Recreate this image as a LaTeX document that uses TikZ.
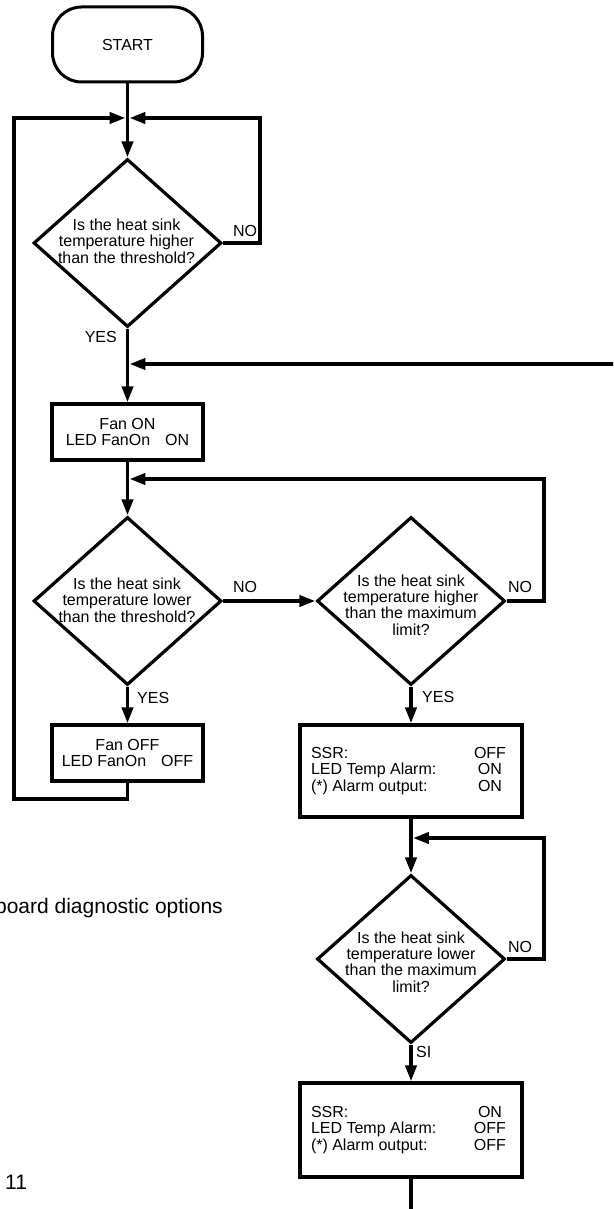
\documentclass[tikz,border=0pt]{standalone}
\usepackage{fontspec}
\setmainfont{Liberation Sans}
\usetikzlibrary{arrows.meta,shapes.geometric}
\newcommand{\ssrrow}[2]{\makebox[158pt][l]{#1}\makebox[42pt][c]{#2}}
\begin{document}
\begin{tikzpicture}[x=1pt,y=-1pt,
  every node/.style={font=\fontsize{16}{16.4}\selectfont},
  conn/.style={line width=3.8pt},
  arr/.style={conn,-{Triangle[length=16pt,width=11pt]}},
  termbox/.style={draw,line width=3pt,rounded corners=29pt,minimum width=150pt,minimum height=75pt,inner sep=0pt},
  dia/.style={draw,diamond,line width=3.2pt,minimum width=188pt,minimum height=168pt,inner sep=0pt},
  procbox/.style={draw,line width=3.2pt,inner sep=0pt},
  qtext/.style={align=center,inner sep=0pt},
  lbl/.style={inner sep=0pt},
  bigtext/.style={font=\fontsize{21}{25}\selectfont,inner sep=0pt}]
\useasboundingbox (0,0) rectangle (613,1209);
\clip (0,0) rectangle (613,1209);

% left column
\node[termbox] (start) at (127.5,44.5) {START};
\coordinate (j1) at (127.5,118);
\node[dia] (d1) at (127.5,243) {};
\node[qtext] (t1) at (126.5,241) {Is the heat sink\\temperature higher\\than the threshold?};
\node[lbl] (no1) at (245,231) {NO};
\node[lbl,anchor=east] (yes1) at (117,337) {YES};
\coordinate (rin) at (614,364);
\coordinate (j0) at (127.5,364);
\node[procbox,minimum width=151pt,minimum height=56pt,align=center] (fanon) at (127.5,432) {Fan ON\\LED FanOn\hspace{15pt}ON};
\coordinate (j2) at (127.5,479);
\node[dia] (d2) at (127.5,601) {};
\node[qtext] (t2) at (127,600) {Is the heat sink\\temperature lower\\than the threshold?};
\node[lbl] (no2) at (245,587) {NO};
\node[lbl,anchor=west] (yes2) at (137,698) {YES};
\node[procbox,minimum width=151pt,minimum height=56pt,align=center] (fanoff) at (127.5,753) {Fan OFF\\LED FanOn\hspace{15pt}OFF};
\coordinate (lb) at (14,799);

% right column
\node[dia] (d3) at (411,601) {};
\node[qtext] (t3) at (411,605) {Is the heat sink\\temperature higher\\than the maximum\\limit?};
\node[lbl] (no3) at (520,587) {NO};
\node[lbl,anchor=west] (yes3) at (422,697) {YES};
\node[procbox,minimum width=222pt,minimum height=92pt,align=left] (ssr1) at (411,771)
  {\ssrrow{SSR:}{OFF}\\\ssrrow{LED Temp Alarm:}{ON}\\\ssrrow{(*) Alarm output:}{ON}};
\coordinate (j3) at (411,838);
\node[dia] (d4) at (411,959) {};
\node[qtext] (t4) at (411,962) {Is the heat sink\\temperature lower\\than the maximum\\limit?};
\node[lbl] (no4) at (520,947) {NO};
\node[lbl,anchor=west] (si4) at (416,1052) {SI};
\node[procbox,minimum width=222pt,minimum height=94pt,align=left] (ssr2) at (411,1130)
  {\ssrrow{SSR:}{ON}\\\ssrrow{LED Temp Alarm:}{OFF}\\\ssrrow{(*) Alarm output:}{OFF}};
\coordinate (bot) at (411,1215);

% page fragments
\node[bigtext,anchor=east] (cap) at (223,908) {board diagnostic options};
\node[bigtext,anchor=west] (pg) at (5,1182) {11};

% connectors
\draw[arr] (start.south) -- (d1.north);
\draw[arr] (d1.east) -- ++(37,0) |- ([xshift=1.9pt]j1);
\draw[arr] (fanoff.south) |- (lb) |- ([xshift=-1.9pt]j1);
\draw[arr] (d1.south) -- (fanon.north);
\draw[arr] (rin) -- ([xshift=1.9pt]j0);
\draw[arr] (fanon.south) -- (d2.north);
\draw[arr] (d3.east) -- ++(37,0) |- ([xshift=1.9pt]j2);
\draw[arr] (d2.east) -- (d3.west);
\draw[arr] (d2.south) -- (fanoff.north);
\draw[arr] (d3.south) -- (ssr1.north);
\draw[arr] (ssr1.south) -- (d4.north);
\draw[arr] (d4.east) -- ++(37,0) |- ([xshift=1.9pt]j3);
\draw[arr] (d4.south) -- (ssr2.north);
\draw[conn] (ssr2.south) -- (bot);
\end{tikzpicture}
\end{document}
